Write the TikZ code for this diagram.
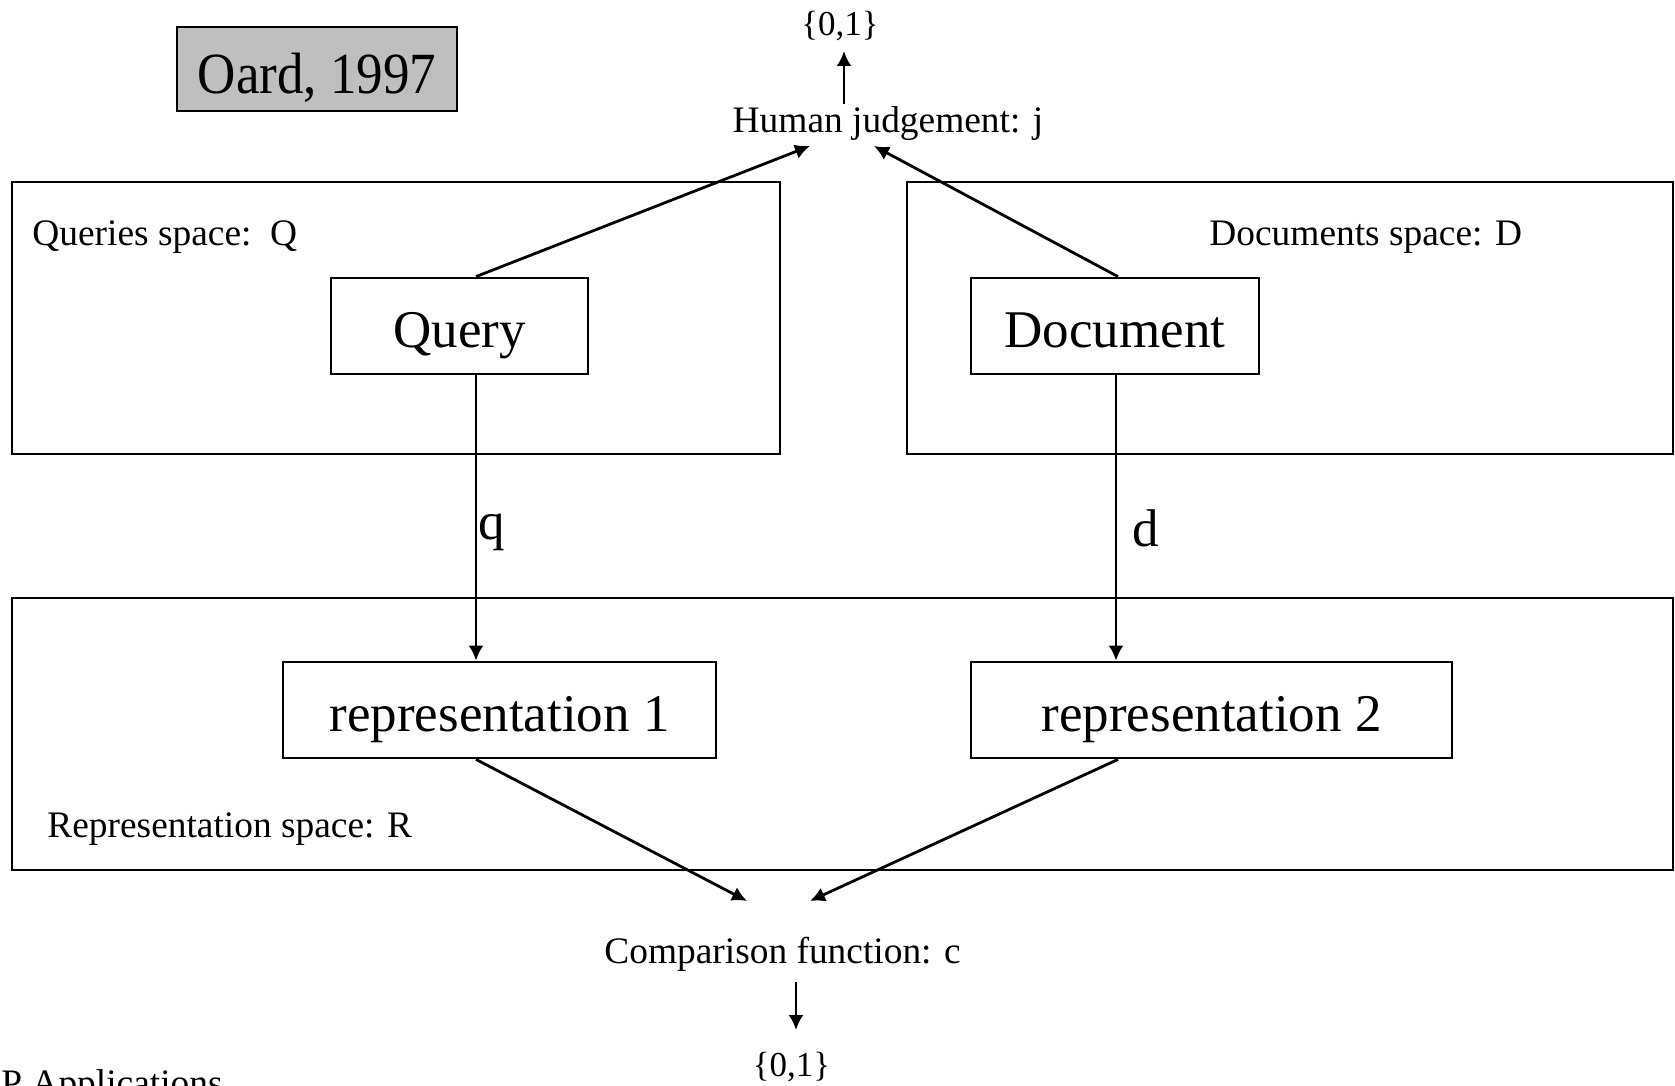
\documentclass[tikz,border=0pt]{standalone}
\usepackage{fontspec}
\setmainfont{Liberation Serif}
\usetikzlibrary{positioning, arrows.meta}

\begin{document}
\begin{tikzpicture}[
        x=0.5pt, y=-0.5pt,
        >={Latex[length=7.5pt,width=7.5pt]},
        line width=1.4pt,
        small/.style={font=\fontsize{18.7}{22}\selectfont},
        setfont/.style={font=\fontsize{17.5}{20}\selectfont},
        big/.style={font=\fontsize{26.5}{31}\selectfont},
        box/.style={draw, big, minimum height=48pt, inner sep=0pt,
            text height=21pt, text depth=0pt},
        spacename/.style={small, inner sep=0pt, anchor=base west}
    ]
        \useasboundingbox (0,0) rectangle (1675,1086);

        % the three spaces
        \draw (12,182) rectangle (780,454);
        \draw (907,182) rectangle (1673,454);
        \draw (12,598) rectangle (1673,870);
        \node[spacename] (qspace) at (31,245) {Queries space:~~Q};
        \node[spacename] (dspace) at (1208,245) {Documents space: D};
        \node[spacename] (rspace) at (46,837) {Representation space: R};

        \node[draw, fill=gray!50, minimum width=140pt, minimum height=42pt] (oard) at (317,69) {};
        \node[big] (oardtext) at ([yshift=-4.5pt]oard.center) {\scalebox{1}[1.1]{Oard, 1997}};

        \node[box, minimum width=128.5pt] (query) at (459.5,326) {Query};
        \node[box, minimum width=144pt] (doc) at (1115,326) {Document};
        \node[box, minimum width=216.5pt] (rep1) at (499.5,710) {representation 1};
        \node[box, minimum width=240.5pt] (rep2) at (1211.5,710) {representation 2};

        \node[big, anchor=base] (qlab) at (492,539) {q};
        \node[big, anchor=base] (dlab) at (1146,546) {d};

        \node[small, anchor=base] (judge) at (888,133) {Human judgement: j};
        \node[setfont, anchor=base] (jset) at (840,36) {\{0,1\}};
        \node[small, anchor=base] (comp) at (782.5,963) {Comparison function: c};
        \node[setfont, anchor=base] (cset) at (791.5,1076) {\{0,1\}};
        \node[small, anchor=base west, inner sep=0pt] (apps) at (0,1095) {P Applications};

        % judgement
        \draw[->] ([xshift=8.25pt]query.north) -- ([xshift=-39pt,yshift=-6.5pt]judge.base);
        \draw[->] ([xshift=1.5pt]doc.north) -- ([xshift=-7pt,yshift=-6.5pt]judge.base);
        \draw[->] ([xshift=-22pt,yshift=14.5pt]judge.base) -- ++(0,-53);

        % indexing
        \draw[->] ([xshift=8.25pt]query.south) -- ([xshift=-11.75pt]rep1.north);
        \draw[->] ([xshift=0.5pt]doc.south) -- ([xshift=-47.75pt]rep2.north);

        % comparison
        \draw[->] ([xshift=-11.75pt]rep1.south) -- ([xshift=-17.75pt,yshift=31pt]comp.base);
        \draw[->] ([xshift=-46.75pt]rep2.south) -- ([xshift=13.75pt,yshift=31pt]comp.base);
        \draw[->] ([xshift=6.75pt,yshift=-9.5pt]comp.base) -- ++(0,48);
\end{tikzpicture}
\end{document}
